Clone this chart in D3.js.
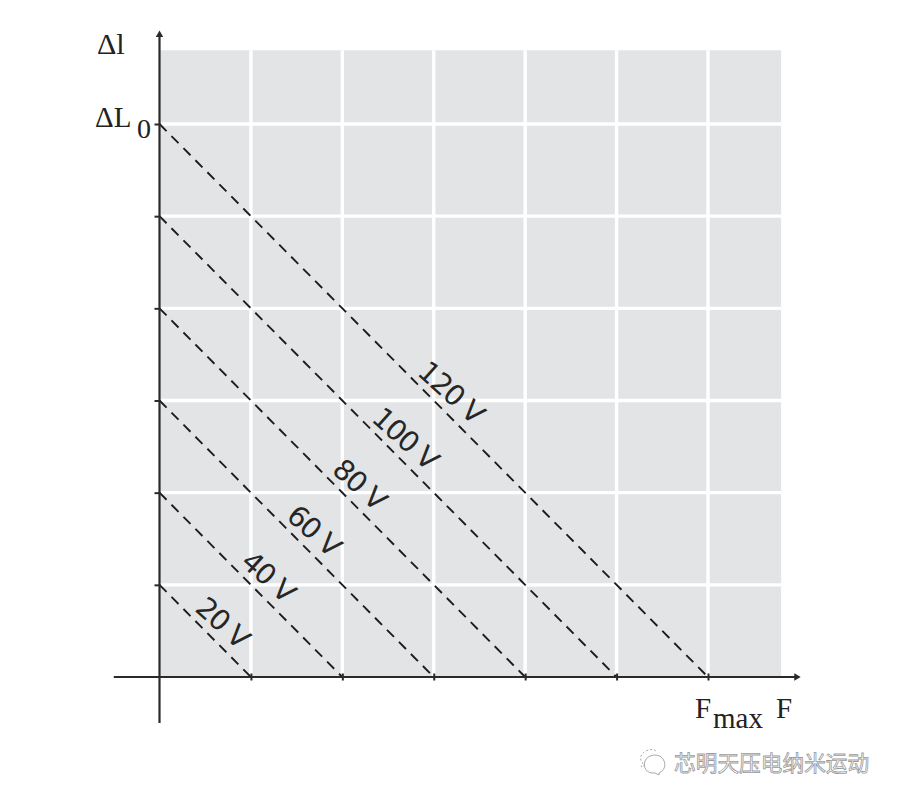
<!DOCTYPE html>
<html>
<head>
<meta charset="utf-8">
<style>
  html, body { margin: 0; padding: 0; background: #fff; }
  svg { display: block; }
  .serif { font-family: "Liberation Serif", serif; fill: #222; }
</style>
</head>
<body>
<svg width="900" height="803"></svg>
<script src="https://cdn.jsdelivr.net/npm/d3@7"></script>
<script>
var voltages = [20, 40, 60, 80, 100, 120];
var gridValues = [20, 40, 60, 80, 100, 120];
var panelMax = 136;
var axisMin = -10, axisMax = 140;
var watermark = "芯明天压电纳米运动";

var ink = "#2a2a2a";

var svg = d3.select("svg");

var x = d3.scaleLinear().domain([0, 120]).range([159.5, 708]);
var y = d3.scaleLinear().domain([0, 120]).range([677, 124]);

// grey panel
svg.append("rect")
  .attr("x", x(0))
  .attr("y", y(panelMax))
  .attr("width", x(panelMax) - x(0))
  .attr("height", y(0) - y(panelMax))
  .attr("fill", "#e3e4e6");

// white grid
svg.selectAll(".gv")
  .data(gridValues)
  .enter().append("line")
  .attr("x1", d => x(d)).attr("x2", d => x(d))
  .attr("y1", y(panelMax)).attr("y2", y(0))
  .attr("stroke", "#fff").attr("stroke-width", 3.4);

svg.selectAll(".gh")
  .data(gridValues)
  .enter().append("line")
  .attr("x1", x(0)).attr("x2", x(panelMax))
  .attr("y1", d => y(d)).attr("y2", d => y(d))
  .attr("stroke", "#fff").attr("stroke-width", 3.4);

// dashed lines, one per voltage
svg.selectAll(".volt")
  .data(voltages)
  .enter().append("line")
  .attr("x1", x(0)).attr("y1", d => y(d))
  .attr("x2", d => x(d)).attr("y2", y(0))
  .attr("stroke", "#1c1c1c")
  .attr("stroke-width", 1.9)
  .attr("stroke-dasharray", "10 7");

// voltage labels
svg.selectAll(".vlabel")
  .data(voltages)
  .enter().append("text")
  .attr("transform", d => `translate(${(x(0) + x(d)) / 2 + 17.5},${(y(0) + y(d)) / 2 - 8.5}) rotate(42)`)
  .attr("text-anchor", "middle")
  .attr("dy", "0.36em")
  .attr("font-family", "'DejaVu Sans', sans-serif")
  .attr("font-size", 28.5)
  .attr("letter-spacing", -1.3)
  .attr("fill", "#262626")
  .text(d => d + " V");

// axes
var xAxis = d3.axisBottom(x).tickValues(gridValues).tickSize(3.5).tickFormat("");
var yAxis = d3.axisLeft(y).tickValues(gridValues).tickSize(3.5).tickFormat("");

var gx = svg.append("g").attr("transform", `translate(0,${y(0)})`).call(xAxis);
var gy = svg.append("g").attr("transform", `translate(${x(0)},0)`).call(yAxis);
gx.select(".domain").remove();
gy.select(".domain").remove();
gx.selectAll(".tick line").attr("y1", -3.5).attr("stroke", ink).attr("stroke-width", 2);
gy.selectAll(".tick line").attr("x1", 1).attr("x2", -5).attr("stroke", ink).attr("stroke-width", 2);

svg.append("line")
  .attr("x1", x(axisMin)).attr("x2", x(axisMax) - 4)
  .attr("y1", y(0)).attr("y2", y(0))
  .attr("stroke", ink).attr("stroke-width", 2.2);
svg.append("line")
  .attr("x1", x(0)).attr("x2", x(0))
  .attr("y1", y(axisMin)).attr("y2", y(axisMax) + 4)
  .attr("stroke", ink).attr("stroke-width", 2.2);

// arrow heads
svg.append("path")
  .attr("d", d3.symbol(d3.symbolTriangle, 24))
  .attr("transform", `translate(${x(axisMax) - 3},${y(0)}) rotate(90)`)
  .attr("fill", ink);
svg.append("path")
  .attr("d", d3.symbol(d3.symbolTriangle, 24))
  .attr("transform", `translate(${x(0)},${y(axisMax) + 3})`)
  .attr("fill", ink);

// axis names
function label(px, py, size, s) {
  svg.append("text")
    .attr("class", "serif")
    .attr("x", px).attr("y", py)
    .attr("font-size", size)
    .text(s);
}
label(97, 54, 30, "Δl");
label(95, 127, 29, "ΔL");
label(137, 138, 28, "0");
label(695, 718, 29, "F");
label(713, 728, 29, "max");
label(776, 718, 29, "F");

// watermark
var wm = svg.append("g");
wm.append("text")
  .attr("x", 674).attr("y", 771)
  .attr("font-family", "'Noto Sans CJK SC', sans-serif")
  .attr("font-size", 21.7)
  .attr("fill", "#fff")
  .attr("stroke", "#9a9a9a")
  .attr("stroke-width", 0.8)
  .text(watermark);

var icon = wm.append("g")
  .attr("fill", "none").attr("stroke", "#a8a8a8").attr("stroke-width", 1);
icon.append("path").attr("d", "M659 775 L655 773 C646 774 643 767 645 761 C648 754 659 753 663 759 C667 765 664 771 659 773 Z");
icon.append("path").attr("d", "M645 765 L641 767 L643 763 C639 760 640 754 646 751 C650 749 654 749 656 751")
  .attr("stroke-dasharray", "2 2");
</script>
</body>
</html>
